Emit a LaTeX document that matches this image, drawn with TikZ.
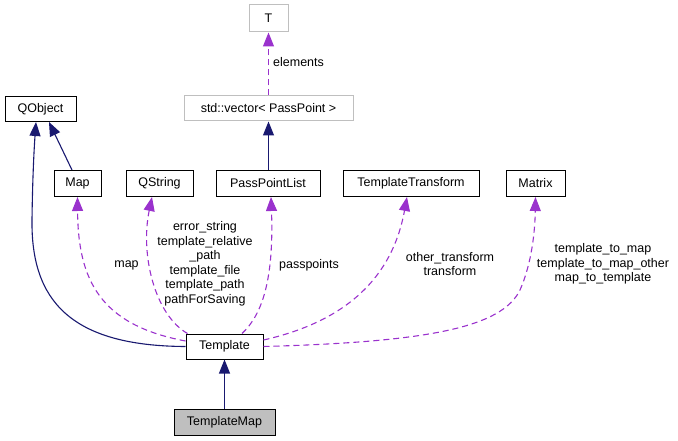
\documentclass[tikz,border=0pt]{standalone}
\usepackage{fontspec}
\setmainfont{Liberation Sans}
\usetikzlibrary{arrows.meta,calc}
\definecolor{navyedge}{HTML}{191970}
\definecolor{purpedge}{HTML}{9A32CD}
\definecolor{grayborder}{HTML}{BFBFBF}
\definecolor{grayfill}{HTML}{BFBFBF}
\tikzset{
  cls/.style={draw=black, line width=1pt, fill=white, minimum height=26pt, inner xsep=2pt, inner ysep=0pt,
    font=\fontsize{12.5}{14.5}\selectfont},
  ext/.style={cls, draw=grayborder},
  cur/.style={cls, fill=grayfill},
  lbl/.style={align=center, inner sep=0pt, font=\fontsize{12.5}{14.5}\selectfont},
  inh/.style={draw=navyedge, line width=1.1pt, -{Triangle[length=14pt,width=11pt]}},
  use/.style={draw=purpedge, line width=1.1pt, dash pattern=on 6pt off 4pt, -{Triangle[length=14pt,width=11pt]}}
}
\begin{document}
\begin{tikzpicture}[x=1pt,y=-1pt]
\useasboundingbox (0,0) rectangle (678,441);
% nodes
\node[ext, minimum width=39pt, minimum height=27pt] (T) at (268.5,18.5) {T};
\node[ext, minimum width=169pt, minimum height=25pt] (vec) at (268.5,108.5) {std::vector< PassPoint >};
\node[cls, minimum width=71pt, minimum height=25pt] (qobj) at (40.5,109) {QObject};
\node[cls, minimum width=47pt] (map) at (77.5,183.5) {Map};
\node[cls, minimum width=67pt] (qstr) at (159.5,183.5) {QString};
\node[cls, minimum width=104pt] (ppl) at (268,183.5) {PassPointList};
\node[cls, minimum width=136pt] (tt) at (411,183.5) {TemplateTransform};
\node[cls, minimum width=59pt] (mat) at (535.5,183.5) {Matrix};
\node[cls, minimum width=77pt, minimum height=25pt] (tpl) at (224.5,346.5) {Template};
\node[cur, minimum width=101pt] (tmap) at (224.5,422) {TemplateMap};
% labels
\node[lbl, anchor=west] (lel) at (273,62) {elements};
\node[lbl] (lmap) at (126.5,265) {map};
\node[lbl] (lstr) at (205,264) {error\_string\\template\_relative\\\_path\\template\_file\\template\_path\\pathForSaving};
\node[lbl] (lpp) at (309,265) {passpoints};
\node[lbl] (ltt) at (450,264) {other\_transform\\transform};
\node[lbl] (lmat) at (603,264) {template\_to\_map\\template\_to\_map\_other\\map\_to\_template};
% edges
\draw[use] (vec.north) -- (T.south);
\draw[inh] (ppl.north -| vec.south) -- (vec.south);
\draw[inh] (tmap.north) -- (tpl.south);
\draw[inh] ($(map.north)+(-5.5,0)$) -- ($(qobj.south)+(8.5,0)$);
\draw[inh] (tpl.west) .. controls (70,346) and (31,300) .. (32,220) .. controls (32.5,180) and (34,150) .. ($(qobj.south)+(-4.5,0)$);
\draw[use] ($(tpl.west)+(0,-5.5)$) .. controls (100,325) and (78,280) .. (map.south);
\draw[use] ($(tpl.north west)+(2,0)$) .. controls (155,315) and (140,255) .. ($(qstr.south)+(-7.5,0)$);
\draw[use] ($(tpl.north)+(17.5,0)$) .. controls (262,315) and (274,280) .. ($(ppl.south)+(3,0)$);
\draw[use] ($(tpl.east)+(0,-6.5)$) .. controls (330,325) and (390,290) .. ($(tt.south)+(-4,0)$);
\draw[use] (tpl.east) .. controls (430,342) and (502,327) .. (520,290) .. controls (532,263) and (535,230) .. (mat.south);
\end{tikzpicture}
\end{document}
